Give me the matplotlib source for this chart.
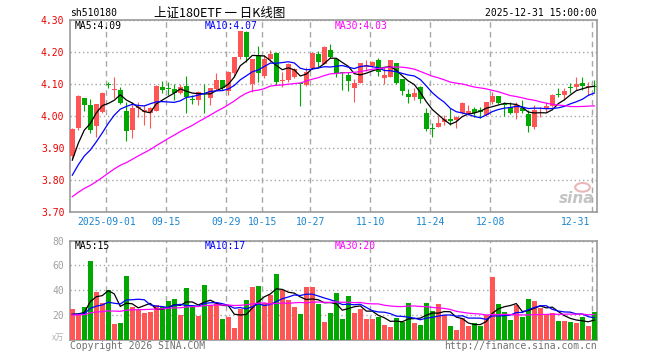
import numpy as np
import pandas as pd
import matplotlib
matplotlib.use("Agg")
import matplotlib.pyplot as plt
from matplotlib.patches import Ellipse

plt.rcParams['font.family'] = ['DejaVu Sans Mono']

# trading days on the chart (exchange closed Oct 1-8)
dates = [d.strftime("%Y-%m-%d") for d in pd.bdate_range("2025-08-22", "2025-12-31")
         if not ("2025-10-01" <= d.strftime("%Y-%m-%d") <= "2025-10-08")]

open_ = [3.875, 3.962, 4.057, 4.035, 3.970, 4.014, 4.100, 4.083, 4.082, 4.017,
         3.957, 4.025, 4.015, 4.010, 4.018, 4.092, 4.088, 4.085, 4.074, 4.095,
         4.055, 4.050, 4.074, 4.058, 4.084, 4.113, 4.080, 4.136, 4.184, 4.264,
         4.100, 4.191, 4.127, 4.179, 4.197, 4.110, 4.113, 4.122, 4.102, 4.098,
         4.150, 4.195, 4.163, 4.207, 4.179, 4.136, 4.130, 4.090, 4.105, 4.155,
         4.157, 4.176, 4.119, 4.124, 4.168, 4.115, 4.070, 4.061, 4.090, 4.009,
         3.961, 3.968, 3.983, 3.993, 3.988, 4.009, 4.007, 4.023, 4.020, 4.004,
         4.046, 4.063, 4.036, 4.030, 4.011, 4.025, 4.007, 3.968, 4.012, 4.025,
         4.032, 4.067, 4.066, 4.090, 4.093, 4.105, 4.092, 4.093]
high = [3.965, 4.067, 4.058, 4.054, 4.040, 4.076, 4.106, 4.122, 4.093, 4.046,
        4.046, 4.046, 4.035, 4.030, 4.097, 4.110, 4.106, 4.100, 4.100, 4.126,
        4.067, 4.078, 4.100, 4.090, 4.134, 4.113, 4.143, 4.184, 4.268, 4.266,
        4.179, 4.220, 4.190, 4.207, 4.200, 4.140, 4.168, 4.150, 4.104, 4.155,
        4.200, 4.205, 4.220, 4.226, 4.180, 4.137, 4.140, 4.116, 4.166, 4.176,
        4.174, 4.181, 4.155, 4.176, 4.168, 4.115, 4.085, 4.087, 4.095, 4.025,
        3.980, 4.001, 4.004, 4.025, 4.000, 4.046, 4.035, 4.030, 4.030, 4.046,
        4.077, 4.064, 4.046, 4.046, 4.046, 4.051, 4.020, 4.035, 4.030, 4.046,
        4.070, 4.087, 4.087, 4.103, 4.124, 4.124, 4.108, 4.113]
low = [3.865, 3.958, 4.016, 3.947, 3.936, 4.010, 4.090, 4.056, 4.040, 3.924,
       3.933, 3.998, 3.973, 3.962, 4.016, 4.074, 4.066, 4.050, 4.070, 4.011,
       4.038, 4.035, 4.009, 4.035, 4.083, 4.082, 4.067, 4.124, 4.180, 4.170,
       4.077, 4.108, 4.120, 4.170, 4.098, 4.093, 4.108, 4.119, 4.032, 4.095,
       4.147, 4.155, 4.163, 4.181, 4.124, 4.082, 4.080, 4.046, 4.103, 4.143,
       4.155, 4.126, 4.100, 4.122, 4.100, 4.066, 4.043, 4.050, 4.043, 3.955,
       3.934, 3.967, 3.973, 3.973, 3.965, 4.007, 4.004, 3.999, 3.994, 4.001,
       4.040, 4.038, 4.001, 4.007, 3.992, 4.011, 3.952, 3.960, 3.999, 4.014,
       4.030, 4.061, 4.051, 4.072, 4.082, 4.082, 4.067, 4.077]
close = [3.960, 4.064, 4.035, 3.957, 4.037, 4.074, 4.098, 4.085, 4.043, 3.955,
         4.025, 4.030, 4.020, 4.025, 4.096, 4.082, 4.086, 4.074, 4.090, 4.061,
         4.052, 4.077, 4.070, 4.090, 4.113, 4.090, 4.137, 4.184, 4.267, 4.184,
         4.179, 4.134, 4.179, 4.195, 4.108, 4.112, 4.163, 4.147, 4.100, 4.137,
         4.199, 4.171, 4.218, 4.184, 4.134, 4.134, 4.111, 4.103, 4.165, 4.160,
         4.170, 4.140, 4.130, 4.176, 4.105, 4.080, 4.061, 4.074, 4.054, 3.959,
         3.959, 3.978, 3.993, 3.986, 3.999, 4.040, 4.017, 4.009, 4.015, 4.046,
         4.063, 4.043, 4.035, 4.009, 4.035, 4.018, 3.970, 4.020, 4.013, 4.032,
         4.067, 4.066, 4.079, 4.089, 4.100, 4.095, 4.093, 4.092]
volume = [24.9, 20.0, 26.2, 63.8, 38.6, 29.5, 40.3, 12.7, 13.5, 51.6,
          26.8, 24.0, 21.9, 22.7, 28.1, 26.2, 31.4, 33.0, 20.0, 41.9,
          26.2, 19.2, 44.3, 28.1, 30.0, 16.8, 18.4, 9.7, 24.9, 32.2,
          42.7, 43.5, 30.0, 36.2, 53.2, 40.3, 32.2, 26.2, 20.8, 42.7,
          42.7, 28.9, 14.1, 21.6, 37.8, 16.8, 35.4, 21.6, 24.9, 16.8,
          16.8, 18.4, 11.9, 10.3, 17.6, 14.3, 29.7, 13.5, 11.9, 29.7,
          23.2, 28.9, 20.0, 11.1, 7.8, 17.6, 11.1, 13.5, 11.1, 20.0,
          50.8, 28.9, 22.4, 15.9, 28.1, 18.4, 33.0, 31.4, 25.7, 20.0,
          21.6, 15.1, 15.1, 14.3, 13.5, 18.4, 11.1, 22.0]

# values before the window, only used to start the moving averages
pre_close = [3.66, 3.67, 3.675, 3.68, 3.69, 3.685, 3.695, 3.70, 3.71, 3.705,
             3.715, 3.72, 3.73, 3.73, 3.745, 3.75, 3.755, 3.76, 3.765, 3.77,
             3.74, 3.76, 3.77, 3.78, 3.795, 3.80, 3.83, 3.855, 3.87]
pre_volume = [18, 22, 17, 21, 19, 24, 16, 20, 23, 18,
              21, 19, 17, 22, 20, 18, 23, 19, 21, 17,
              19, 22, 20.5, 21, 20, 18, 21, 19.6, 19]

tick_dates = ["2025-09-01", "2025-09-15", "2025-09-29", "2025-10-15", "2025-10-27",
              "2025-11-10", "2025-11-24", "2025-12-08", "2025-12-31"]
tick_labels = ["2025-09-01", "09-15", "09-29", "10-15", "10-27",
               "11-10", "11-24", "12-08", "12-31"]
price_ticks = [4.30, 4.20, 4.10, 4.00, 3.90, 3.80, 3.70]
vol_ticks = [20, 40, 60, 80]

RED = "#ff5555"
GREEN = "#00a800"
GRID = "#a8a8a8"


def moving_avg(pre, vals, n):
    s = pd.Series(pre + vals).rolling(n).mean().values
    return s[len(pre):]


o = np.array(open_)
c = np.array(close)
x = np.arange(len(close))
colors = np.where(c >= o, RED, GREEN)

W, H = 660, 360
fig = plt.figure(figsize=(6.6, 3.6), dpi=100)


def box(l, t, r, b):
    return [l / W, 1 - b / H, (r - l) / W, (b - t) / H]


ax = fig.add_axes(box(70, 20.3, 597.3, 212.3))
axv = fig.add_axes(box(70, 240.7, 597.3, 339.7))

grid_x = [dates.index(d) - 1 / 3 for d in tick_dates]
xlim = (-0.383, 87.5)

for a in (ax, axv):
    a.set_xlim(*xlim)
    a.set_xticks(grid_x)
    a.set_xticklabels([])
    a.tick_params(length=0)
    a.grid(axis='x', color=GRID, ls=(0, (4, 3)), lw=1)
    a.grid(axis='y', color=GRID, ls=(0, (1, 2)), lw=1)
    for s in a.spines.values():
        s.set_color("#999999")
        s.set_linewidth(1.2)
    a.set_axisbelow(True)

# candles
ax.vlines(x, low, high, colors=colors, lw=0.8, zorder=2)
ax.bar(x, np.maximum(np.abs(c - o), 0.003), bottom=np.minimum(o, c), width=0.8,
       color=colors, lw=0, zorder=3)
ma_cols = {5: "black", 10: "#0000ff", 30: "#ff00ff"}
ma_x = {5: 0.0095, 10: 0.256, 30: 0.5025}
for n, col in ma_cols.items():
    m = moving_avg(pre_close, close, n)
    ax.plot(x, m, color=col, lw=0.9, zorder=4)
    ax.text(ma_x[n], 0.97, f"MA{n}:{m[-1]:.2f}", transform=ax.transAxes,
            color=col, fontsize=7, va='center', ha='left')

ax.set_ylim(3.70, 4.30)
ax.set_yticks(price_ticks)
ax.set_yticklabels([f"{v:.2f}" for v in price_ticks])
ax.tick_params(axis='y', labelcolor="#ee0000", labelsize=7, pad=4)

for pos, lab in zip(grid_x, tick_labels):
    if lab == tick_labels[-1]:
        ax.text(xlim[1] - 1.2, -0.049, lab, transform=ax.get_xaxis_transform(),
                ha='right', va='center', color="#1a86d0", fontsize=7)
    else:
        ax.text(pos, -0.049, lab, transform=ax.get_xaxis_transform(),
                ha='center', va='center', color="#1a86d0", fontsize=7)

# sina watermark
ax.add_patch(Ellipse((0.972, 0.13), 0.028, 0.045, transform=ax.transAxes,
                     fill=False, ec="#e8b8b8", lw=1.5, zorder=1))
ax.text(0.995, 0.07, "sina", transform=ax.transAxes, ha='right', va='center',
        color="#c4c4c4", fontsize=11, fontweight='bold', style='italic',
        family='DejaVu Sans')

# volume
axv.bar(x, volume, width=0.8, color=colors, lw=0, zorder=3)
for n, col in ma_cols.items():
    m = moving_avg(pre_volume, volume, n)
    axv.plot(x, m, color=col, lw=0.9, zorder=4)
    axv.text(ma_x[n], 0.946, f"MA{n}:{int(m[-1])}", transform=axv.transAxes,
             color=col, fontsize=7, va='center', ha='left')
axv.set_ylim(0, 80)
axv.set_yticks(vol_ticks)
axv.set_yticklabels([str(v) for v in vol_ticks])
axv.tick_params(axis='y', labelcolor="#a0a0a0", labelsize=7, pad=4)
axv.text(-0.01, 0.02, "x万", transform=axv.transAxes, ha='right', va='center',
         color="#b0b0b0", fontsize=6, family=['Noto Sans CJK SC', 'DejaVu Sans'])

# header / footer
fig.text(70 / W, 1 - 13 / H, "sh510180", fontsize=7, va='center', ha='left')
fig.text(219.5 / W, 1 - 13 / H, "上证180ETF 一 日K线图", fontsize=9, va='center',
         ha='center', family=['Noto Sans CJK SC', 'DejaVu Sans'])
fig.text(597 / W, 1 - 13 / H, "2025-12-31 15:00:00", fontsize=7, va='center', ha='right')
fig.text(70 / W, 1 - 346 / H, "Copyright 2026 SINA.COM", fontsize=7, va='center',
         ha='left', color="#707070")
fig.text(597 / W, 1 - 346 / H, "http://finance.sina.com.cn", fontsize=7, va='center',
         ha='right', color="#707070")

fig.savefig("out.png", dpi=100, facecolor="white")
